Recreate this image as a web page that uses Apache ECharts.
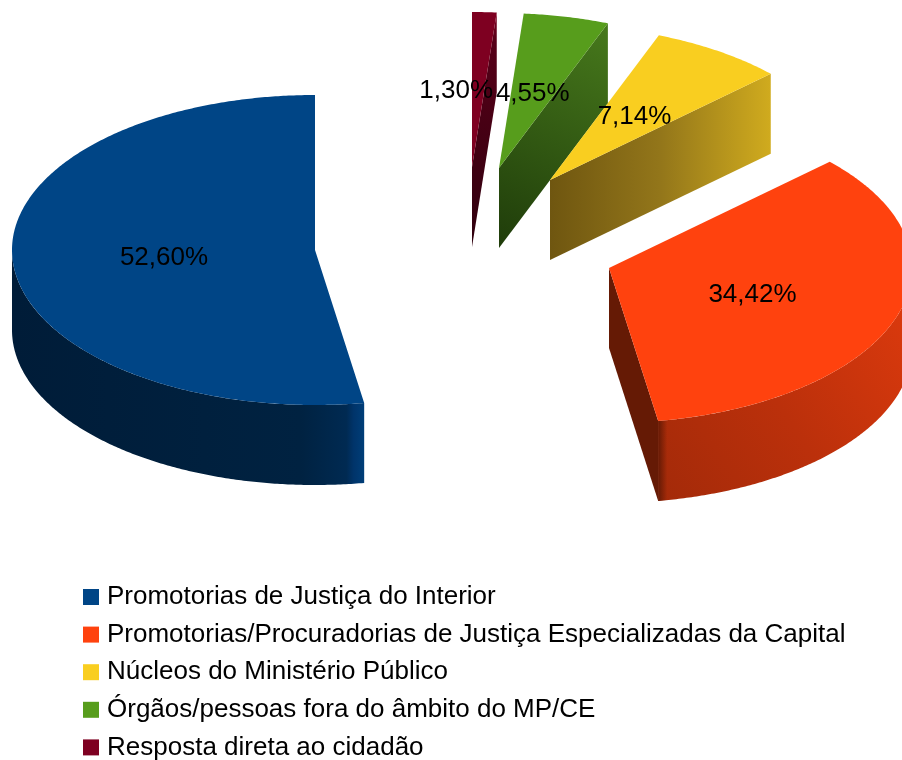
<!DOCTYPE html>
<html>
<head>
<meta charset="utf-8">
<style>html,body{margin:0;padding:0;background:#fff}#c{width:902px;height:760px}</style>
<script src="https://cdn.jsdelivr.net/npm/echarts@6/dist/echarts.min.js"></script>
</head>
<body>
<div id="c"></div>
<script>
const categories = [
  'Promotorias de Justiça do Interior',
  'Promotorias/Procuradorias de Justiça Especializadas da Capital',
  'Núcleos do Ministério Público',
  'Órgãos/pessoas fora do âmbito do MP/CE',
  'Resposta direta ao cidadão'
];
const values = [52.60, 34.42, 7.14, 4.55, 1.30];

// styling and layout of the exploded 3D pie
const topColors = ['#004586', '#ff420e', '#f9ce20', '#579d1c', '#7e0021'];
const origins = [[315, 250], [609, 268], [550, 180], [499, 168], [472, 167]];
const labelShiftX = [0, 0, 0, 0, -22];
const radiusX = 303, radiusY = 155, depth = 80;

const total = values.reduce((a, b) => a + b, 0);
function startAngle(i) {
  let s = 0;
  for (let k = 0; k < i; k++) s += values[k];
  return s / total * 360;
}
function pt(o, deg, k, dy) {
  const r = deg * Math.PI / 180;
  return [o[0] - Math.sin(r) * radiusX * k, o[1] - Math.cos(r) * radiusY * k + (dy || 0)];
}
function arc(o, a0, a1, dy) {
  const pts = [], n = Math.max(2, Math.ceil(Math.abs(a1 - a0) * 2));
  for (let j = 0; j <= n; j++) pts.push(pt(o, a0 + (a1 - a0) * j / n, 1, dy));
  return pts;
}
function grad(x, y, x2, y2, stops) {
  return {
    type: 'linear', global: true, x, y, x2, y2,
    colorStops: stops.map(s => ({ offset: s[0], color: s[1] }))
  };
}
function poly(points, fill) {
  return { type: 'polygon', shape: { points }, style: { fill, stroke: null } };
}
function wallFill(i, o, endPt) {
  if (i === 2) return grad(o[0], 0, endPt[0], 0, [[0, '#6f5610'], [0.5, '#93761a'], [1, '#d0ab1e']]);
  if (i === 3) return grad(endPt[0], endPt[1], o[0], o[1] + depth, [[0, '#47791c'], [1, '#1f3c0a']]);
  if (i === 4) return grad(0, endPt[1], 0, o[1] + depth, [[0, '#7e0021'], [0.12, '#560018'], [1, '#30000e']]);
  return '#651a05';
}
function renderSlice(i, params, api) {
  const v = api.value(0);
  const a0 = startAngle(i), a1 = a0 + v / total * 360;
  const o = origins[i];
  const children = [];
  if (i === 0) {
    const top = arc(o, 90, a1, 0), bottom = arc(o, 90, a1, depth).reverse();
    children.push(poly(top.concat(bottom), grad(o[0] - radiusX, 0, pt(o, a1, 1)[0], 0,
      [[0, '#001c38'], [0.82, '#002241'], [0.95, '#002a52'], [0.97, '#00346a'], [1, '#003e78']])));
  }
  if (i === 1) {
    const p = pt(o, a0, 1);
    children.push(poly([o, p, [p[0], p[1] + depth], [o[0], o[1] + depth]], wallFill(i, o, p)));
    const top = arc(o, a0, 270, 0), bottom = arc(o, a0, 270, depth).reverse();
    const shape = top.concat(bottom);
    children.push(poly(shape, grad(p[0], p[1] + depth, o[0] + radiusX, o[1] + 60,
      [[0, '#a32a09'], [0.5, '#bb300b'], [1, '#d9390d']])));
    children.push(poly(shape, grad(p[0], 0, p[0] + 9, 0,
      [[0, 'rgba(101,26,5,1)'], [1, 'rgba(101,26,5,0)']])));
  }
  if (i >= 2) {
    const p = pt(o, a0, 1);
    children.push(poly([o, p, [p[0], p[1] + depth], [o[0], o[1] + depth]], wallFill(i, o, p)));
  }
  children.push(poly([o].concat(arc(o, a0, a1, 0)), topColors[i]));
  const mid = pt(o, (a0 + a1) / 2, 0.5);
  children.push({
    type: 'text',
    style: {
      x: mid[0] + labelShiftX[i], y: mid[1] + 1.5,
      text: v.toFixed(2).replace('.', ',') + '%',
      fill: '#000', font: '26px "Liberation Sans"',
      align: 'center', verticalAlign: 'middle'
    }
  });
  return { type: 'group', children };
}

const chart = echarts.init(document.getElementById('c'), null, { renderer: 'canvas' });
chart.setOption({
  animation: false,
  backgroundColor: '#fff',
  legend: {
    orient: 'vertical', left: 83, top: 582, height: 190, padding: 0,
    itemWidth: 16, itemHeight: 16, itemGap: 7.6,
    icon: 'rect', selectedMode: false,
    textStyle: { fontFamily: 'Liberation Sans', fontSize: 26, color: '#000', lineHeight: 30, padding: [0, 0, 0, 3] },
    data: categories
  },
  series: categories.map((name, i) => ({
    type: 'custom', name, coordinateSystem: 'none', z: i === 0 ? 6 : 6 - i,
    itemStyle: { color: topColors[i] },
    silent: true,
    renderItem: (p, api) => renderSlice(i, p, api),
    data: [values[i]]
  }))
});
</script>
</body>
</html>
